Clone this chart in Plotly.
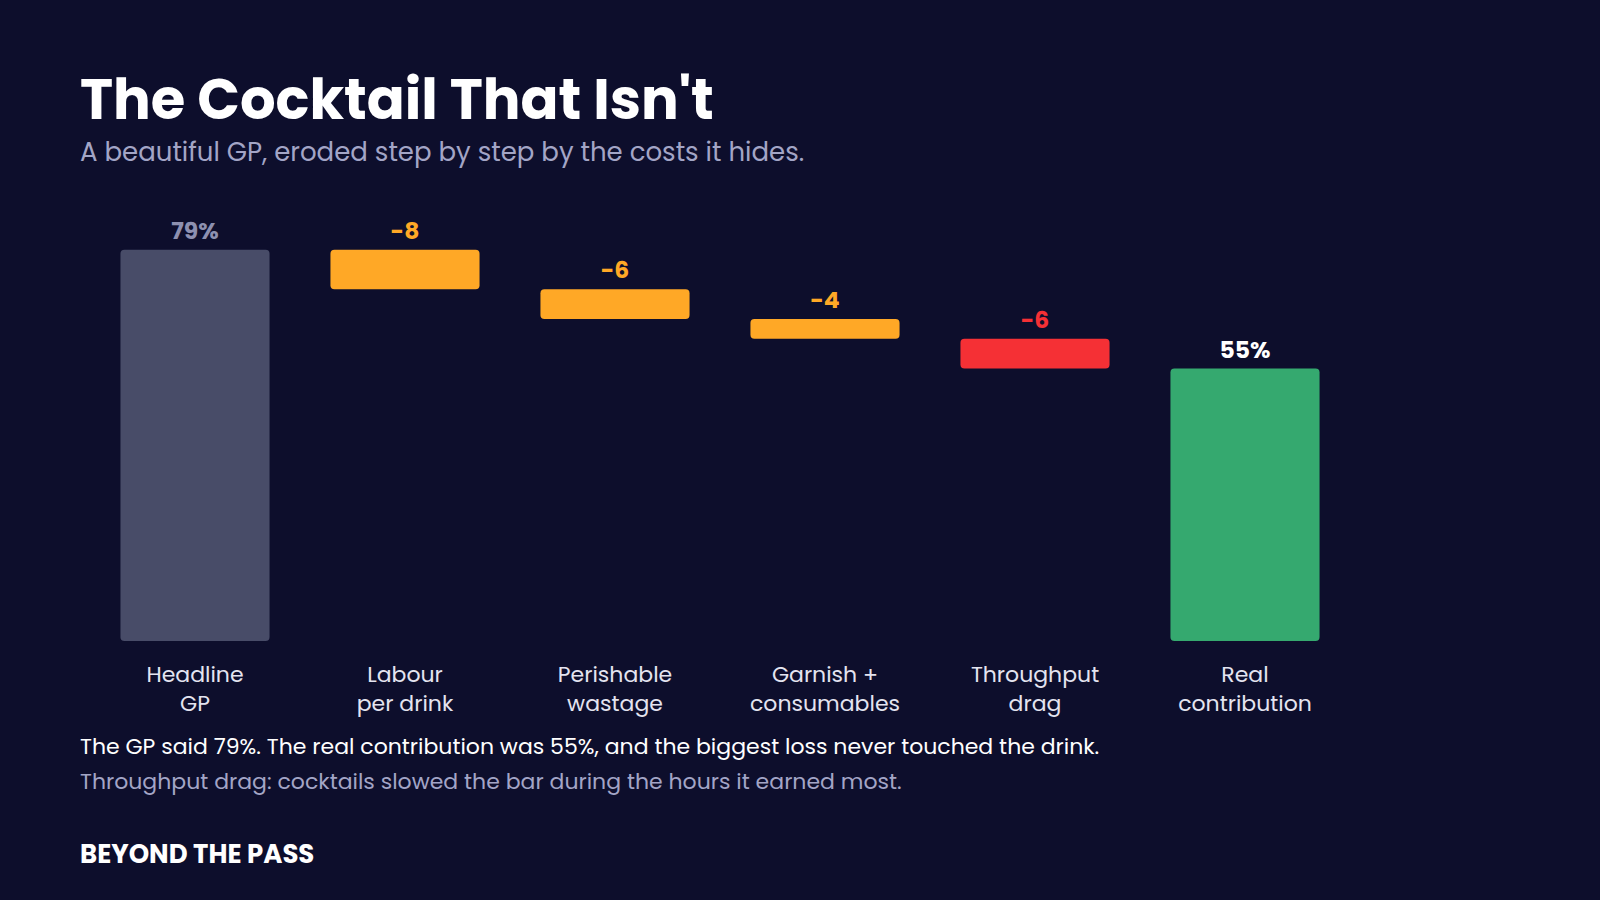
import plotly.graph_objects as go

# waterfall steps, in GP percentage points
categories = ["Headline<br>GP", "Labour<br>per drink", "Perishable<br>wastage",
              "Garnish +<br>consumables", "Throughput<br>drag", "Real<br>contribution"]
headline_gp = 79
deltas = [-8, -6, -4, -6]
real_contribution = 55

bar_colors = ["#484c68", "#ffa826", "#ffa826", "#ffa826", "#f53035", "#35a96f"]
label_colors = ["#8d90b0", "#ffa826", "#ffa826", "#ffa826", "#f53035", "#ffffff"]

# build bases / lengths from the steps
bases, lengths, labels = [0], [headline_gp], [f"{headline_gp}%"]
level = headline_gp
for d in deltas:
    level += d
    bases.append(level)
    lengths.append(-d)
    labels.append(f"{d}")
bases.append(0)
lengths.append(real_contribution)
labels.append(f"{real_contribution}%")

W, H = 1600, 900
L, R, T, B = 90, 250, 220, 259
FONT = "Poppins, Inter, sans-serif"


def px(x, y):
    # page pixels -> paper coords
    return (x - L) / (W - L - R), (H - B - y) / (H - T - B)


fig = go.Figure(go.Bar(
    x=categories,
    y=lengths,
    base=bases,
    width=0.71,
    marker=dict(color=bar_colors, line=dict(width=0), cornerradius=4),
    text=labels,
    textposition="outside",
    cliponaxis=False,
    textfont=dict(family=FONT, size=23.5, color=label_colors, weight="bold"),
    hoverinfo="skip",
))

fig.update_layout(
    width=W, height=H,
    margin=dict(l=L, r=R, t=T, b=B),
    paper_bgcolor="#0d0e2c",
    plot_bgcolor="#0d0e2c",
    showlegend=False,
    uniformtext=dict(mode=False),
    xaxis=dict(showgrid=False, zeroline=False, showline=False, ticks="",
               tickfont=dict(family=FONT, size=22, color="#e4e4f0"),
               ticklabelstandoff=18, fixedrange=True),
    yaxis=dict(range=[0, 85], visible=False, fixedrange=True),
)

texts = [
    ("The Cocktail That Isn't", 100, 56, "#ffffff", "bold"),
    ("A beautiful GP, eroded step by step by the costs it hides.", 152, 26, "#a3a5c6", "normal"),
    ("The GP said 79%. The real contribution was 55%, and the biggest loss never touched the drink.", 746, 22, "#ffffff", "normal"),
    ("Throughput drag: cocktails slowed the bar during the hours it earned most.", 781, 22, "#a3a5c6", "normal"),
    ("BEYOND THE PASS", 854, 26, "#ffffff", "bold"),
]
for t, y, size, color, weight in texts:
    ax, ay = px(78, y)
    fig.add_annotation(text=t, x=ax, y=ay, xref="paper", yref="paper",
                       xanchor="left", yanchor="middle", showarrow=False,
                       font=dict(family=FONT, size=size, color=color, weight=weight))

# drop the default page margin so the figure sits flush in the window
fig.write_html("out.html", config={"displayModeBar": False},
               post_script="document.body.style.margin='0';")
